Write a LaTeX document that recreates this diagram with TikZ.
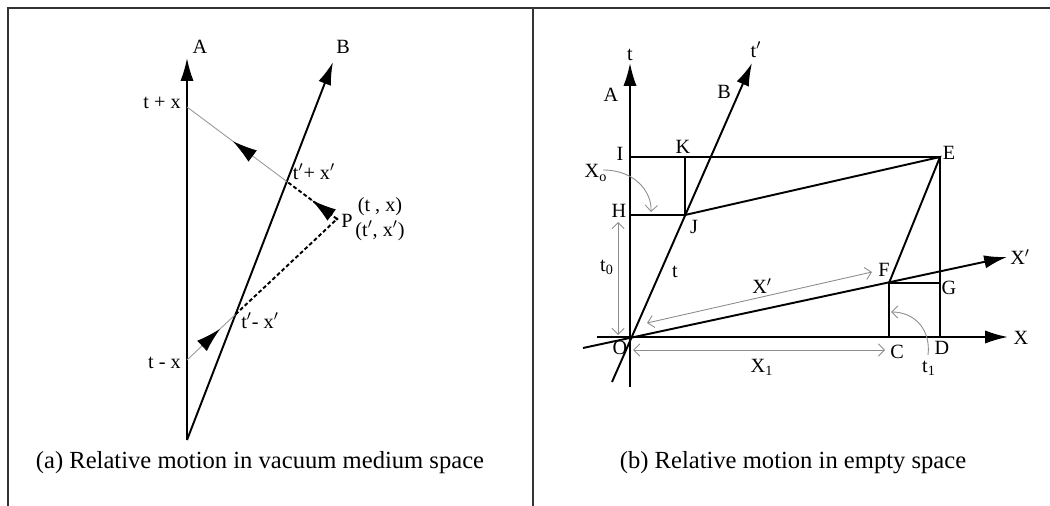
\documentclass[tikz,border=0pt]{standalone}
\usepackage{fontspec}
\setmainfont{Liberation Serif}
\usetikzlibrary{arrows.meta,decorations.markings,calc}
\begin{document}
\begin{tikzpicture}[x=0.02cm,y=-0.02cm,
  frame/.style={line width=1.1pt,draw=black!80},
  axis/.style={line width=1.1pt,-{Latex[length=13pt,width=7.5pt]}},
  thick line/.style={line width=1.1pt},
  light/.style={draw=black!40,line width=0.5pt},
  dash line/.style={line width=1.1pt,dash pattern=on 2.2pt off 1.4pt},
  dim/.style={draw=black!45,line width=0.5pt,{Straight Barb[length=3.5pt,width=7pt]}-{Straight Barb[length=3.5pt,width=7pt]}},
  curv/.style={draw=black!45,line width=0.5pt,-{Straight Barb[length=3.5pt,width=7pt]}},
  lbl/.style={inner sep=0pt,font=\fontsize{11.5}{13}\selectfont},
  captext/.style={inner sep=0pt,font=\fontsize{14}{16}\selectfont},
  midarr/.style={postaction={decorate},decoration={markings,mark=at position #1 with {\arrow[black,solid,line width=0.4pt]{Latex[length=14pt,width=8pt]}}}}
]
\useasboundingbox (0,0) rectangle (1050,506);
% frame
\draw[frame] (8,506) -- (8,8) -- (1050,8);
\draw[frame] (533,8) -- (533,506);

% ---------- panel (a) ----------
\coordinate (A0) at (187,440);
\coordinate (Atip) at (187,58);
\coordinate (Btip) at (333,62);
\coordinate (TX) at (187,107);
\coordinate (TmX) at (187,360);
\coordinate (P) at (337,219);
\coordinate (T1) at (286.8,181.5);
\coordinate (T2) at (235.5,314.4);

\draw[axis] (A0) -- (Atip);
\draw[axis] (A0) -- (Btip);
\draw[light,midarr=0.54] (T1) -- (TX);
\draw[light,midarr=0.68] (TmX) -- (T2);
\draw[dash line] (T2) -- (P);
\draw[dash line,midarr=0.5] (P) -- (T1);
\fill (P) circle (1.6);

\node[lbl] (lA) at (200,47) {A};
\node[lbl] (lB) at (343,47) {B};
\node[lbl,anchor=east] (ltx) at (181,103) {t + x};
\node[lbl,anchor=east] (ltmx) at (181,363) {t - x};
\node[lbl] (lt1) at (314,172) {t$'$+ x$'$};
\node[lbl] (lt2) at (260,321) {t$'$- x$'$};
\node[lbl] (lP) at (347,221) {P};
\node[lbl] (ltx1) at (380,207) {(t , x)};
\node[lbl] (ltx2) at (380,231) {(t$'$, x$'$)};
\node[captext] (capa) at (260,463) {(a) Relative motion in vacuum medium space};

% ---------- panel (b) ----------
\coordinate (O) at (630,337);
\coordinate (tb) at (630,387);
\coordinate (tt) at (630,63);
\coordinate (xl) at (597,337);
\coordinate (xr) at (1008,337);
\coordinate (bb) at (612,382);
\coordinate (bt) at (752,63);
\coordinate (xpl) at (583,348);
\coordinate (xpr) at (1007,257);
\coordinate (I) at (630,157);
\coordinate (E) at (940,157);
\coordinate (K) at (685,157);
\coordinate (J) at (685,215);
\coordinate (H) at (630,215);
\coordinate (D) at (940,337);
\coordinate (F) at (889,283);
\coordinate (G) at (940,283);
\coordinate (C) at (889,337);

\draw[axis] (tb) -- (tt);
\draw[axis] (xl) -- (xr);
\draw[axis] (bb) -- (bt);
\draw[axis] (xpl) -- (xpr);
\draw[thick line] (I) -- (E) -- (D);
\draw[thick line] (K) -- (J) -- (H);
\draw[thick line] (J) -- (E) -- (F) -- (C);
\draw[thick line] (F) -- (G);

% dimension arrows
\coordinate (t0a) at (618,222);
\coordinate (t0b) at (618,335);
\coordinate (xpa) at (647,323);
\coordinate (xpb) at (872,272);
\coordinate (x1a) at (633,350);
\coordinate (x1b) at (885,350);
\draw[dim] (t0a) -- (t0b);
\draw[dim] (xpa) -- (xpb);
\draw[dim] (x1a) -- (x1b);
\coordinate (x0s) at (603,170);
\coordinate (x0e) at (651,212);
\draw[curv] (x0s) .. controls (635,170) and (652,192) .. (x0e);
\coordinate (t1s) at (928,355);
\coordinate (t1e) at (891,312);
\draw[curv] (t1s) .. controls (931,330) and (915,312) .. (t1e);

\node[lbl] (lt) at (630,55) {t};
\node[lbl] (ltp) at (756,50) {t$'$};
\node[lbl] (lbA) at (611,95) {A};
\node[lbl] (lbB) at (724,92) {B};
\node[lbl] (lI) at (620,154) {I};
\node[lbl] (lK) at (683,147) {K};
\node[lbl] (lE) at (949,153) {E};
\node[lbl] (lXo) at (596,173) {X\textsubscript{o}};
\node[lbl] (lH) at (619,211) {H};
\node[lbl] (lJ) at (694,227) {J};
\node[lbl] (lt0) at (607,267) {t\textsubscript{0}};
\node[lbl] (ltB) at (675,272) {t};
\node[lbl] (lXp) at (762,286) {X$'$};
\node[lbl] (lF) at (884,270) {F};
\node[lbl] (lG) at (949,288) {G};
\node[lbl] (lXpa) at (1020,257) {X$'$};
\node[lbl] (lX) at (1021,338) {X};
\node[lbl] (lO) at (620,348) {O};
\node[lbl] (lD) at (942,348) {D};
\node[lbl] (lC) at (897,352) {C};
\node[lbl] (lX1) at (762,367) {X\textsubscript{1}};
\node[lbl] (lt1b) at (929,368) {t\textsubscript{1}};
\node[captext] (capb) at (793,463) {(b) Relative motion in empty space};
\end{tikzpicture}
\end{document}
